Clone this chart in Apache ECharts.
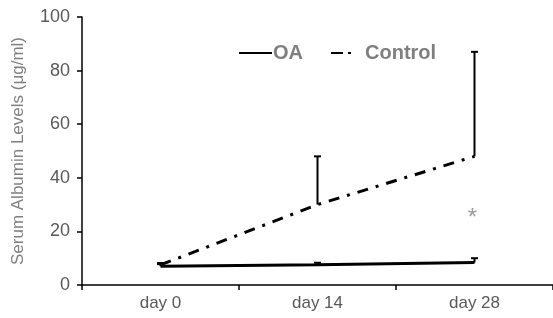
<!DOCTYPE html>
<html>
<head>
<meta charset="utf-8">
<script src="https://cdn.jsdelivr.net/npm/echarts@6/dist/echarts.min.js"></script>
<style>
  html, body { margin: 0; padding: 0; background: #fff; }
  #chart { width: 553px; height: 318px; }
</style>
</head>
<body>
<div id="chart"></div>
<script>
var days = ['day 0', 'day 14', 'day 28'];
var oaValues = [7, 7.6, 8.4];
var oaUpper = [7.8, 8.3, 10];
var controlValues = [7.5, 30, 48];
var controlUpper = [8.2, 48, 87];
var starValue = [[2, 25]];

var chart = echarts.init(document.getElementById('chart'));

function errorBar(params, api) {
	var base = api.coord([api.value(0), api.value(1)]);
	var top = api.coord([api.value(0), api.value(2)]);
	var style = { stroke: '#000', lineWidth: 2 };
	return {
		type: 'group',
		children: [
			{ type: 'line', shape: { x1: base[0], y1: base[1], x2: top[0], y2: top[1] }, style: style },
			{ type: 'line', shape: { x1: top[0] - 3.5, y1: top[1], x2: top[0] + 3.5, y2: top[1] }, style: style }
		]
	};
}

var option = {
	textStyle: { fontFamily: 'Liberation Sans, Arial, sans-serif' },
	animation: false,
	grid: { left: 82, top: 17, width: 474, bottom: 33, containLabel: false },
	legend: {
		top: 38,
		left: 233,
		itemWidth: 33,
		itemHeight: 14,
		itemGap: 27,
		itemStyle: { opacity: 0 },
		textStyle: { color: '#7f7f7f', fontSize: 20, fontWeight: 'bold', padding: [0, 0, 0, -4] },
		data: [
			{ name: 'OA' },
			{ name: 'Control', lineStyle: { type: [12, 5, 3, 30] } }
		]
	},
	xAxis: {
		type: 'category',
		data: days,
		boundaryGap: true,
		axisLine: { lineStyle: { color: '#000', width: 1.5 } },
		axisTick: { show: true, length: 5, lineStyle: { color: '#000', width: 1.5 } },
		axisLabel: { color: '#595959', fontSize: 17, margin: 10 }
	},
	yAxis: {
		type: 'value',
		min: 0,
		max: 100,
		interval: 20,
		name: 'Serum Albumin Levels (μg/ml)',
		nameLocation: 'middle',
		nameGap: 55,
		nameTextStyle: { color: '#7f7f7f', fontSize: 17 },
		splitLine: { show: false },
		axisLine: { show: true, lineStyle: { color: '#000', width: 1.5 } },
		axisTick: { show: true, length: 5, lineStyle: { color: '#000', width: 1.5 } },
		axisLabel: { color: '#595959', fontSize: 18, margin: 12 }
	},
	series: [
		{
			name: 'OA',
			type: 'line',
			data: oaValues,
			symbol: 'none',
			itemStyle: { color: '#000' },
			lineStyle: { color: '#000', width: 3 },
			z: 3
		},
		{
			name: 'Control',
			type: 'line',
			data: controlValues,
			symbol: 'none',
			itemStyle: { color: '#000' },
			lineStyle: { color: '#000', width: 3, type: [11, 8, 3, 8] },
			z: 3
		},
		{
			type: 'custom',
			renderItem: errorBar,
			data: days.map(function (d, i) { return [i, oaValues[i], oaUpper[i]]; }),
			z: 4
		},
		{
			type: 'custom',
			renderItem: errorBar,
			data: days.map(function (d, i) { return [i, controlValues[i], controlUpper[i]]; }),
			z: 4
		},
		{
			type: 'scatter',
			data: starValue,
			symbolSize: 0,
			label: { show: true, formatter: '*', color: '#7f7f7f', fontSize: 24, offset: [-2, 0] },
			silent: true
		}
	]
};

chart.setOption(option);
</script>
</body>
</html>
